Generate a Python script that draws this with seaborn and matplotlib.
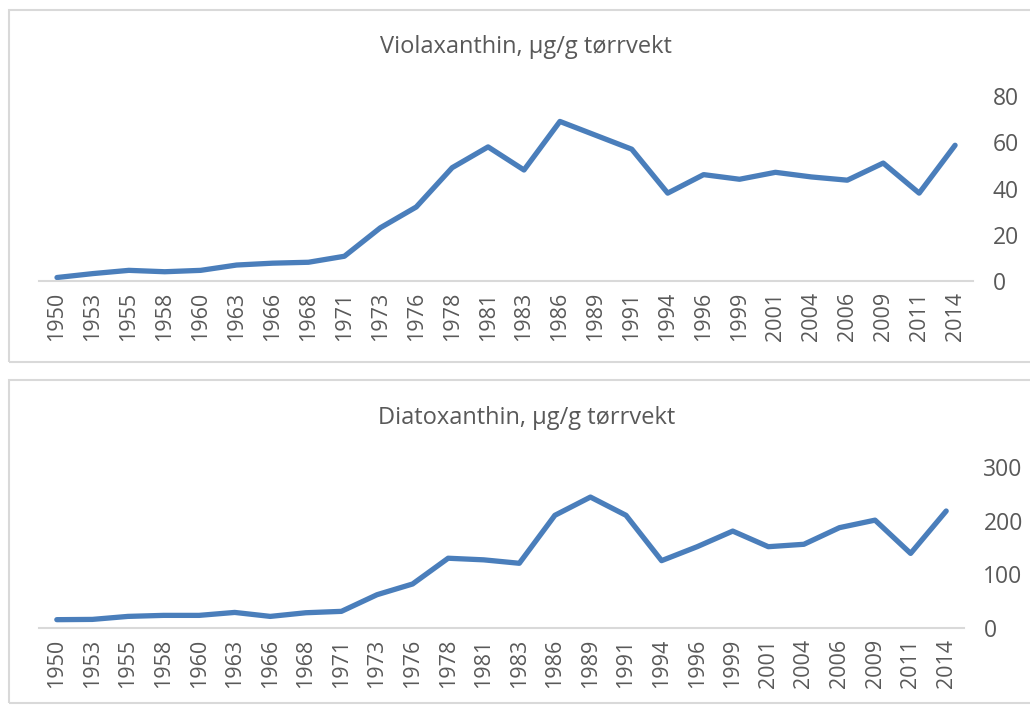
import matplotlib.pyplot as plt
import matplotlib.patches as mpatches
import pandas as pd
import seaborn as sns

years = ["1950", "1953", "1955", "1958", "1960", "1963", "1966", "1968", "1971",
         "1973", "1976", "1978", "1981", "1983", "1986", "1989", "1991", "1994",
         "1996", "1999", "2001", "2004", "2006", "2009", "2011", "2014"]
violaxanthin = [1.5, 3.2, 4.6, 4.0, 4.6, 6.9, 7.7, 8.1, 10.7, 23, 32, 49, 58, 48,
                69, 63, 57, 38, 46, 44, 47, 45, 43.6, 51, 38, 58.7]
diatoxanthin = [15.5, 16, 21.6, 23.5, 23.5, 29, 21.6, 28.4, 31, 62, 82, 130, 127,
                120.6, 210, 244, 210, 125.5, 151.5, 180.6, 151.5, 156, 187, 201,
                139, 218]

titles = ["Violaxanthin, µg/g tørrvekt", "Diatoxanthin, µg/g tørrvekt"]
y_ticks = [[0, 20, 40, 60, 80], [0, 100, 200, 300]]

sns.set_style("white")
plt.rcParams["font.family"] = ["Open Sans", "DejaVu Sans"]

LINE = "#4a7ebb"
TEXT = "#595959"
GRID = "#d9d9d9"

fig = plt.figure(figsize=(10.3, 7.06), dpi=100)

# panel frames (figure coords)
for y0, h in [(0.4877, 0.498), (0.0043, 0.4575)]:
    fig.patches.append(mpatches.Rectangle((0.0083, y0), 1.1, h, transform=fig.transFigure,
                                          fill=False, edgecolor=GRID, linewidth=1.5))

axes_pos = [[0.0379, 0.602, 0.9068, 0.262], [0.0379, 0.1105, 0.898, 0.228]]
title_y = [0.933, 0.408]

for i, values in enumerate([violaxanthin, diatoxanthin]):
    df = pd.DataFrame({"year": years, "value": values})
    ax = fig.add_axes(axes_pos[i])
    sns.lineplot(data=df, x="year", y="value", ax=ax, color=LINE, linewidth=3.8,
                 sort=False, solid_capstyle="round", solid_joinstyle="round")
    ax.set_xlim(-0.5, len(years) - 0.5)
    ax.set_ylim(0, y_ticks[i][-1])
    ax.set_yticks(y_ticks[i])
    ax.yaxis.tick_right()
    ax.set_xlabel("")
    ax.set_ylabel("")
    for side in ["top", "left", "right"]:
        ax.spines[side].set_visible(False)
    ax.spines["bottom"].set_color(GRID)
    ax.spines["bottom"].set_linewidth(1.5)
    ax.tick_params(axis="x", length=0, pad=8, labelsize=15.5, labelcolor=TEXT, labelrotation=90)
    ax.tick_params(axis="y", length=0, pad=14, labelsize=16.5, labelcolor=TEXT)
    for lab in ax.get_yticklabels():
        lab.set_horizontalalignment("left")
    fig.text(0.511, title_y[i], titles[i], ha="center", va="center", fontsize=17, color=TEXT)

fig.savefig("out.png", dpi=100)
